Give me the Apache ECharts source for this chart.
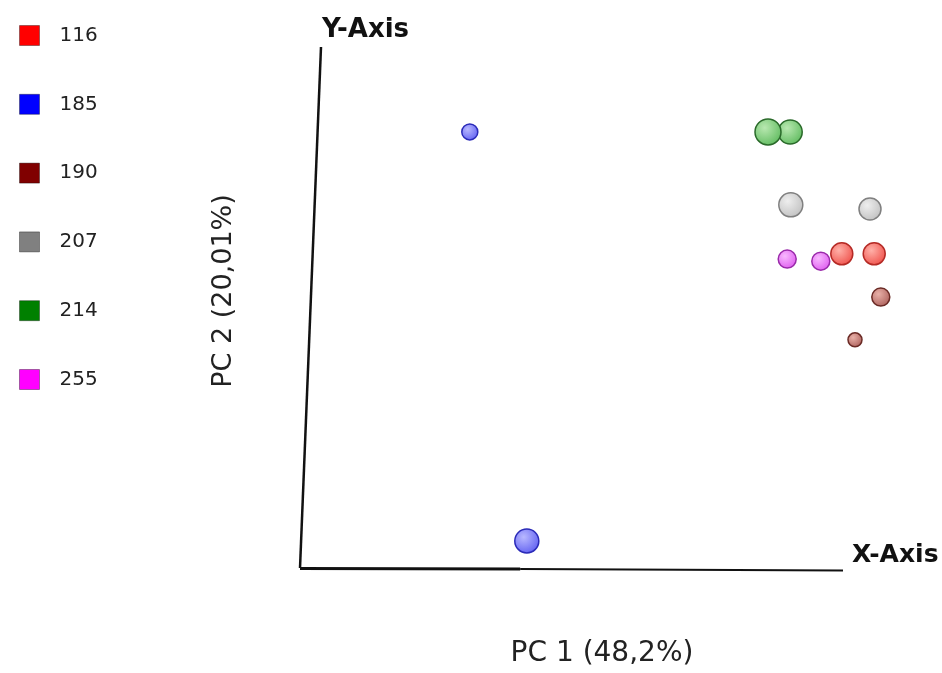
<!DOCTYPE html>
<html>
<head>
<meta charset="utf-8">
<script src="https://cdn.jsdelivr.net/npm/echarts@6/dist/echarts.min.js"></script>
<style>html,body{margin:0;padding:0;background:#fff}#c{width:942px;height:673px}</style>
</head>
<body>
<div id="c"></div>
<script>
// Groups (legend)
const groups = ['116', '185', '190', '207', '214', '255'];
// PC scores per group (arbitrary units, 0..100 scale); pc3 = depth (drawn as sphere size)
const pc1_116 = [90.3, 95.7];
const pc2_116 = [60.3, 60.3];
const pc3_116 = [11, 11];
const pc1_185 = [28.3, 37.8];
const pc2_185 = [83.7, 5.2];
const pc3_185 = [8, 12];
const pc1_190 = [96.8, 92.5];
const pc2_190 = [52.0, 43.8];
const pc3_190 = [9, 7];
const pc1_207 = [81.8, 95.0];
const pc2_207 = [69.7, 68.9];
const pc3_207 = [12, 11];
const pc1_214 = [81.7, 78.0];
const pc2_214 = [83.7, 83.7];
const pc3_214 = [12, 13];
const pc1_255 = [81.2, 86.8];
const pc2_255 = [59.3, 58.9];
const pc3_255 = [9, 9];
const axisTitles = { x: 'PC 1 (48,2%)', y: 'PC 2 (20,01%)' };
const axisNames = { x: 'X-Axis', y: 'Y-Axis' };

const pcData = {
  '116': [pc1_116, pc2_116, pc3_116],
  '185': [pc1_185, pc2_185, pc3_185],
  '190': [pc1_190, pc2_190, pc3_190],
  '207': [pc1_207, pc2_207, pc3_207],
  '214': [pc1_214, pc2_214, pc3_214],
  '255': [pc1_255, pc2_255, pc3_255]
};

const legendColors = {
  '116': '#ff0000', '185': '#0000ff', '190': '#800000',
  '207': '#808080', '214': '#008000', '255': '#ff00ff'
};
const sphere = {
  '116': ['#ffb0a8', '#ee4a44', '#b52a25'],
  '185': ['#b8b8ff', '#5a5af0', '#2a2ab8'],
  '190': ['#e8b0a8', '#a85a55', '#6a2a25'],
  '207': ['#eeeeee', '#bdbdbd', '#808080'],
  '214': ['#b8e8b0', '#5ab85a', '#2a6a2a'],
  '255': ['#f8b8ff', '#dd55ee', '#9a2aaa']
};

function grad(c) {
  return new echarts.graphic.RadialGradient(0.38, 0.35, 0.75, [
    { offset: 0, color: c[0] },
    { offset: 1, color: c[1] }
  ]);
}

const series = groups.map(g => {
  const [a, b, c] = pcData[g];
  const data = a.map((v, i) => [v, b[i], c[i]]);
  return {
    name: g,
    type: 'scatter',
    data: data,
    symbolSize: d => d[2] * 2,
    itemStyle: { color: grad(sphere[g]), borderColor: sphere[g][2], borderWidth: 1.5, opacity: 1 },
    emphasis: { disabled: true },
    clip: false,
    z: 3
  };
});

// Axis lines drawn in data space (slanted Y axis like the 3D view)
const yAxisLine = [[0, 0], [3.5, 100]];
const xAxisLineA = [[0, -0.1], [36.7, -0.2]];
const xAxisLineB = [[36.7, -0.2], [90.5, -0.5]];
[[yAxisLine, 2.5], [xAxisLineA, 3], [xAxisLineB, 2]].forEach(([d, w]) => {
  series.push({
    type: 'line', data: d, symbol: 'none', silent: true, clip: false,
    lineStyle: { color: '#111', width: w }, z: 2, animation: false
  });
});

const chart = echarts.init(document.getElementById('c'));
chart.setOption({
  animation: false,
  backgroundColor: '#fff',
  grid: { left: 300, right: 42, top: 47, bottom: 105 },
  xAxis: { type: 'value', min: 0, max: 100, show: false },
  yAxis: { type: 'value', min: 0, max: 100, show: false },
  legend: {
    orient: 'vertical', left: 14, top: 20,
    itemWidth: 20, itemHeight: 20, itemGap: 47.8,
    icon: 'rect',
    data: groups.map(g => ({ name: g, itemStyle: { color: legendColors[g], borderColor: 'rgba(0,0,0,0.35)', borderWidth: 1 } })),
    textStyle: { fontFamily: 'DejaVu Sans', fontSize: 20, color: '#222', padding: [0, 0, 0, 15] },
    selectedMode: false
  },
  graphic: [
    { type: 'text', left: 322, top: 17, style: { text: axisNames.y, font: 'bold 26px "DejaVu Sans"', fill: '#111' } },
    { type: 'text', left: 852, top: 543, style: { text: axisNames.x, font: 'bold 25px "DejaVu Sans"', fill: '#111' } },
    { type: 'text', x: 602, y: 654, style: { text: axisTitles.x, font: '28px "DejaVu Sans"', fill: '#222', align: 'center', verticalAlign: 'middle' } },
    { type: 'text', x: 224, y: 291, rotation: Math.PI / 2, style: { text: axisTitles.y, font: '27px "DejaVu Sans"', fill: '#222', align: 'center', verticalAlign: 'middle' } }
  ],
  series: series
});
</script>
</body>
</html>
